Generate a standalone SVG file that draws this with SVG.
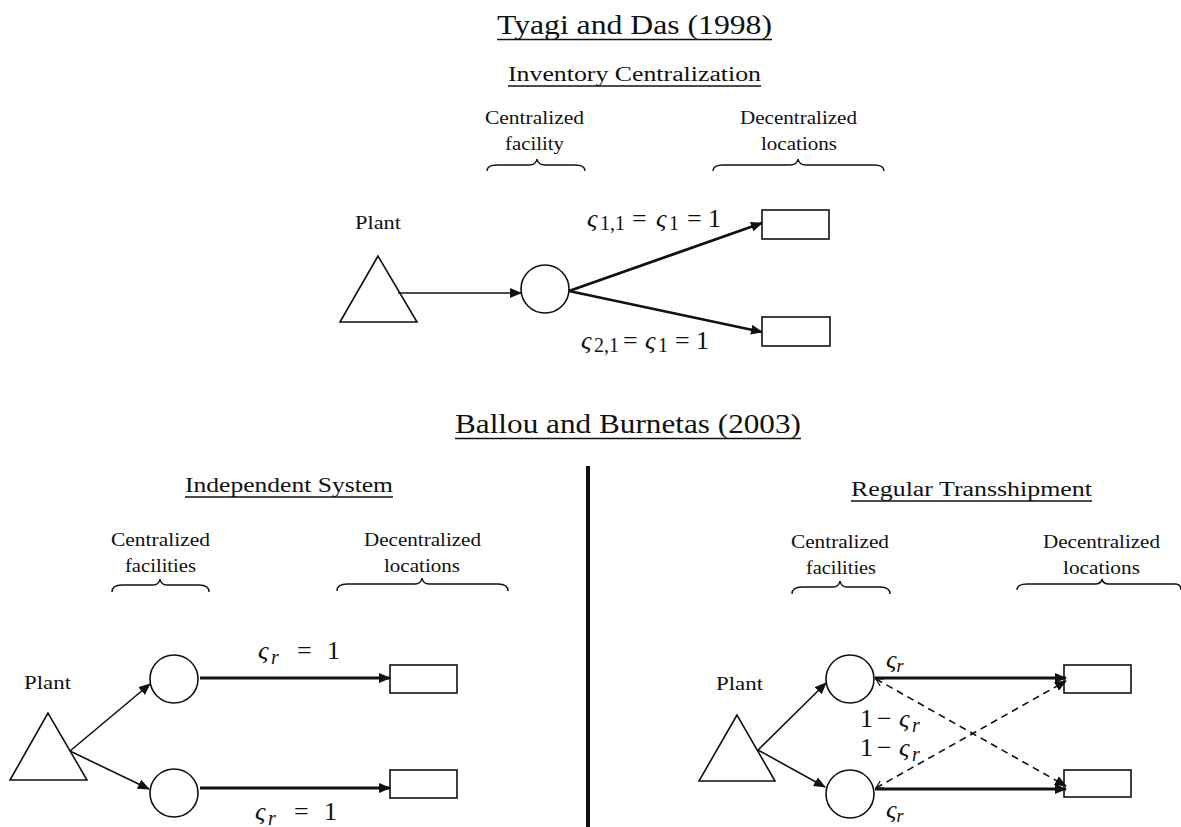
<svg xmlns="http://www.w3.org/2000/svg" width="1181" height="827" viewBox="0 0 1181 827">
<style>
text{font-family:"Liberation Serif","Times New Roman",serif;fill:#111;}
.title{font-size:27px;}
.sub{font-size:20px;}
.lbl{font-size:19px;}
.math{font-size:26px;}
.it{font-style:italic;}
.shape{fill:#fff;stroke:#111;stroke-width:1.6;}
.brace{fill:none;stroke:#111;stroke-width:1.4;}
.ul{stroke:#111;stroke-width:1.4;}
.thin{fill:none;stroke:#111;stroke-width:1.6;}
.thick{fill:none;stroke:#111;stroke-width:2.8;}
.dash{fill:none;stroke:#111;stroke-width:1.6;stroke-dasharray:7 5;}
</style>
<defs>
<marker id="ah" markerUnits="userSpaceOnUse" markerWidth="12" markerHeight="10" refX="11" refY="5" orient="auto">
<path d="M0,0 L12,5 L0,10 z" fill="#111"/>
</marker>
<marker id="oh" markerUnits="userSpaceOnUse" markerWidth="10" markerHeight="10" refX="8" refY="5" orient="auto-start-reverse">
<path d="M1,1 L8,5 L1,9" fill="none" stroke="#111" stroke-width="1.2"/>
</marker>
</defs>
<rect width="1181" height="827" fill="#fff"/>

<!-- Titles -->
<g id="titles">
<text class="title" x="634.5" y="34" text-anchor="middle" textLength="275" lengthAdjust="spacingAndGlyphs">Tyagi and Das (1998)</text>
<line class="ul" x1="497" y1="39.5" x2="772" y2="39.5"/>
<text class="sub" x="634.5" y="81" text-anchor="middle" textLength="253" lengthAdjust="spacingAndGlyphs">Inventory Centralization</text>
<line class="ul" x1="508" y1="86" x2="761" y2="86"/>
<text class="title" x="628" y="433" text-anchor="middle" textLength="346" lengthAdjust="spacingAndGlyphs">Ballou and Burnetas (2003)</text>
<line class="ul" x1="455" y1="438.5" x2="801" y2="438.5"/>
<text class="sub" x="289" y="492" text-anchor="middle" textLength="208" lengthAdjust="spacingAndGlyphs">Independent System</text>
<line class="ul" x1="185" y1="497" x2="393" y2="497"/>
<text class="sub" x="971.5" y="496" text-anchor="middle" textLength="241" lengthAdjust="spacingAndGlyphs">Regular Transshipment</text>
<line class="ul" x1="851" y1="501" x2="1092" y2="501"/>
</g>

<line id="divider" x1="588" y1="466" x2="588" y2="827" stroke="#111" stroke-width="4"/>

<!-- Top diagram -->
<g id="top-labels">
<text class="lbl" x="534.5" y="124" text-anchor="middle" textLength="99" lengthAdjust="spacingAndGlyphs">Centralized</text>
<text class="lbl" x="534.5" y="150" text-anchor="middle" textLength="59" lengthAdjust="spacingAndGlyphs">facility</text>
<path class="brace" d="M487,171 Q487,165 497,165 L529,165 Q536,165 537,159 Q538,165 545,165 L575,165 Q585,165 585,171"/>
<text class="lbl" x="798.5" y="124" text-anchor="middle" textLength="117" lengthAdjust="spacingAndGlyphs">Decentralized</text>
<text class="lbl" x="799" y="150" text-anchor="middle" textLength="76" lengthAdjust="spacingAndGlyphs">locations</text>
<path class="brace" d="M713,171 Q713,165 723,165 L790,165 Q797,165 798,159 Q799,165 806,165 L874,165 Q884,165 884,171"/>
</g>
<g id="top-plant">
<text class="lbl" x="378" y="229" text-anchor="middle" textLength="46" lengthAdjust="spacingAndGlyphs">Plant</text>
<polygon class="shape" points="378,256 340,322 417,322"/>
</g>
<g id="top-facility"><circle class="shape" cx="545" cy="289" r="24"/></g>
<g id="top-loc1"><rect class="shape" x="762" y="210" width="67" height="29"/></g>
<g id="top-loc2"><rect class="shape" x="762" y="317" width="68" height="29"/></g>
<g id="top-connectors">
<line class="thin" x1="398" y1="293" x2="521" y2="293" marker-end="url(#ah)"/>
<line class="thick" x1="569" y1="291" x2="762" y2="223" marker-end="url(#ah)"/>
<line class="thick" x1="569" y1="291" x2="762" y2="332" marker-end="url(#ah)"/>
</g>
<g id="top-edge-labels">
<text class="math" y="227"><tspan class="it" x="587">ς</tspan><tspan font-size="20" x="600" dy="3">1,1</tspan><tspan x="632" dy="-3">=</tspan><tspan class="it" x="656">ς</tspan><tspan font-size="20" x="669" dy="3">1</tspan><tspan x="687" dy="-3">=</tspan><tspan x="708">1</tspan></text>
<text class="math" y="349"><tspan class="it" x="581">ς</tspan><tspan font-size="20" x="594" dy="3">2,1</tspan><tspan x="623" dy="-3">=</tspan><tspan class="it" x="645">ς</tspan><tspan font-size="20" x="658" dy="3">1</tspan><tspan x="675" dy="-3">=</tspan><tspan x="696">1</tspan></text>
</g>

<!-- Independent system -->
<g id="ind-labels">
<text class="lbl" x="160.5" y="546" text-anchor="middle" textLength="99" lengthAdjust="spacingAndGlyphs">Centralized</text>
<text class="lbl" x="160.5" y="572" text-anchor="middle" textLength="71" lengthAdjust="spacingAndGlyphs">facilities</text>
<path class="brace" d="M112,592 Q112,585 122,585 L153,585 Q159,585 160,579 Q161,585 167,585 L199,585 Q209,585 209,592"/>
<text class="lbl" x="422.5" y="546" text-anchor="middle" textLength="117" lengthAdjust="spacingAndGlyphs">Decentralized</text>
<text class="lbl" x="422" y="572" text-anchor="middle" textLength="76" lengthAdjust="spacingAndGlyphs">locations</text>
<path class="brace" d="M337,591 Q337,584 347,584 L415,584 Q421,584 422,578 Q423,584 429,584 L498,584 Q508,584 508,591"/>
</g>
<g id="ind-plant">
<text class="lbl" x="47.5" y="689" text-anchor="middle" textLength="47" lengthAdjust="spacingAndGlyphs">Plant</text>
<polygon class="shape" points="48,713 10,780 87,780"/>
</g>
<g id="ind-fac1"><circle class="shape" cx="174" cy="679" r="24"/></g>
<g id="ind-fac2"><circle class="shape" cx="174" cy="793" r="24"/></g>
<g id="ind-loc1"><rect class="shape" x="390" y="665" width="67" height="28"/></g>
<g id="ind-loc2"><rect class="shape" x="390" y="770" width="67" height="28"/></g>
<g id="ind-connectors">
<line class="thin" x1="70" y1="751" x2="150" y2="684" marker-end="url(#ah)"/>
<line class="thin" x1="70" y1="751" x2="149" y2="789" marker-end="url(#ah)"/>
<line class="thick" x1="200" y1="678" x2="390" y2="678" marker-end="url(#ah)"/>
<line class="thick" x1="200" y1="788" x2="390" y2="788" marker-end="url(#ah)"/>
</g>
<g id="ind-edge-labels">
<text class="math" y="659" font-size="28"><tspan class="it" x="258">ς</tspan><tspan class="it" font-size="20" x="271" dy="5">r</tspan><tspan x="297" dy="-5">=</tspan><tspan x="327">1</tspan></text>
<text class="math" y="820" font-size="28"><tspan class="it" x="255">ς</tspan><tspan class="it" font-size="20" x="268" dy="5">r</tspan><tspan x="294" dy="-5">=</tspan><tspan x="324">1</tspan></text>
</g>

<!-- Regular transshipment -->
<g id="rt-labels">
<text class="lbl" x="840" y="548" text-anchor="middle" textLength="98" lengthAdjust="spacingAndGlyphs">Centralized</text>
<text class="lbl" x="841" y="574" text-anchor="middle" textLength="70" lengthAdjust="spacingAndGlyphs">facilities</text>
<path class="brace" d="M792,594 Q792,587 802,587 L833,587 Q839,587 840,581 Q841,587 847,587 L880,587 Q890,587 890,594"/>
<text class="lbl" x="1101.5" y="548" text-anchor="middle" textLength="117" lengthAdjust="spacingAndGlyphs">Decentralized</text>
<text class="lbl" x="1101.5" y="574" text-anchor="middle" textLength="77" lengthAdjust="spacingAndGlyphs">locations</text>
<path class="brace" d="M1017,590 Q1017,584 1027,584 L1095,584 Q1101,584 1102,579 Q1103,584 1109,584 L1175,584 Q1181,584 1181,590"/>
</g>
<g id="rt-plant">
<text class="lbl" x="739.5" y="690" text-anchor="middle" textLength="47" lengthAdjust="spacingAndGlyphs">Plant</text>
<polygon class="shape" points="737,715 699,781 775,781"/>
</g>
<g id="rt-fac1"><circle class="shape" cx="850" cy="679" r="24"/></g>
<g id="rt-fac2"><circle class="shape" cx="850" cy="794" r="24"/></g>
<g id="rt-loc1"><rect class="shape" x="1064" y="665" width="67" height="28"/></g>
<g id="rt-loc2"><rect class="shape" x="1064" y="770" width="67" height="27"/></g>
<g id="rt-connectors">
<line class="thin" x1="758" y1="750" x2="826" y2="683" marker-end="url(#ah)"/>
<line class="thin" x1="758" y1="750" x2="825" y2="787" marker-end="url(#ah)"/>
<line class="thick" x1="875" y1="678" x2="1066" y2="678" marker-end="url(#ah)"/>
<line class="thick" x1="875" y1="789" x2="1066" y2="789" marker-end="url(#ah)"/>
<line class="dash" x1="876" y1="679" x2="1066" y2="786" marker-start="url(#oh)" marker-end="url(#ah)"/>
<line class="dash" x1="876" y1="788" x2="1066" y2="681" marker-start="url(#oh)" marker-end="url(#ah)"/>
</g>
<g id="rt-edge-labels">
<text class="math" x="886" y="668" font-size="25"><tspan class="it">ς</tspan><tspan class="it" font-size="18" dy="4">r</tspan></text>
<text class="math" y="727" font-size="28"><tspan x="860">1</tspan><tspan x="877">−</tspan><tspan class="it" x="899">ς</tspan><tspan class="it" font-size="20" x="912" dy="5">r</tspan></text>
<text class="math" y="756" font-size="28"><tspan x="860">1</tspan><tspan x="877">−</tspan><tspan class="it" x="899">ς</tspan><tspan class="it" font-size="20" x="912" dy="5">r</tspan></text>
<text class="math" x="886" y="818" font-size="25"><tspan class="it">ς</tspan><tspan class="it" font-size="18" dy="4">r</tspan></text>
</g>
</svg>
